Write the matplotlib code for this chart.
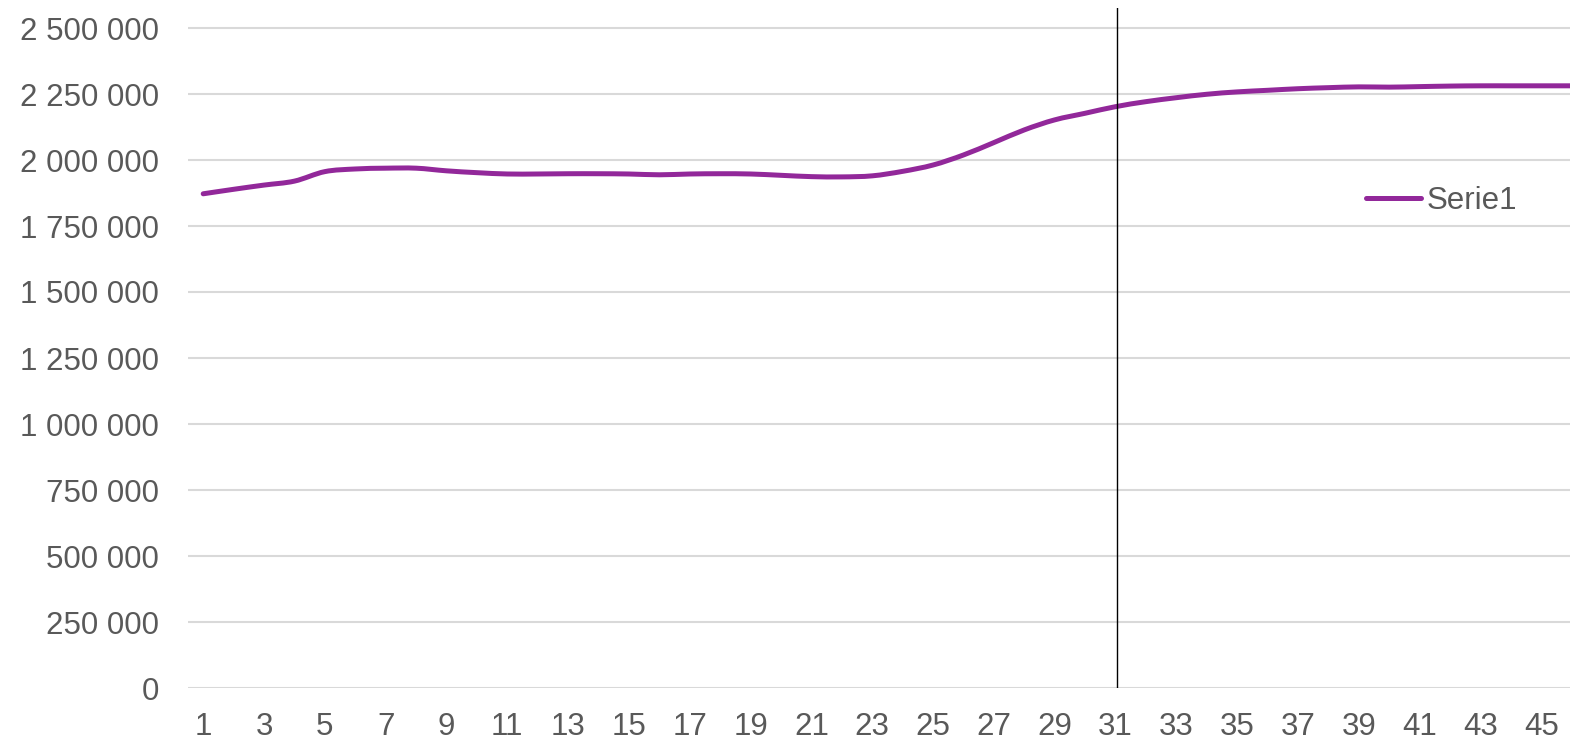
import matplotlib
matplotlib.use('Agg')
import matplotlib.pyplot as plt
from matplotlib.path import Path
from matplotlib.patches import PathPatch
from matplotlib.lines import Line2D
from matplotlib.ticker import FuncFormatter, MultipleLocator

## series
periods = list(range(1, 47))
serie1 = [1872000, 1889000, 1905000, 1920000, 1956000, 1966000, 1969000, 1969000,
          1959000, 1952000, 1947000, 1947000, 1948000, 1948000, 1947000, 1944000,
          1947000, 1948000, 1947000, 1942000, 1937000, 1936000, 1940000, 1957000,
          1981000, 2019000, 2066000, 2114000, 2152000, 2177000, 2202000, 2221000,
          2236000, 2249000, 2258000, 2264000, 2270000, 2274000, 2277000, 2276000,
          2278000, 2280000, 2281000, 2281000, 2281000, 2281000]
marker_period = 31
y_ticks = list(range(0, 2500001, 250000))
series_name = 'Serie1'

plt.rcParams['font.family'] = ['Liberation Sans', 'DejaVu Sans']
txt = '#595959'
purple = '#92289a'


def smooth_path(xs, ys):
    ## bezier through the points, like the "smoothed line" option of a spreadsheet chart
    verts = [(xs[0], ys[0])]
    codes = [Path.MOVETO]
    n = len(xs)
    for i in range(n - 1):
        x0, y0 = xs[max(i - 1, 0)], ys[max(i - 1, 0)]
        x1, y1 = xs[i], ys[i]
        x2, y2 = xs[i + 1], ys[i + 1]
        x3, y3 = xs[min(i + 2, n - 1)], ys[min(i + 2, n - 1)]
        verts += [(x1 + (x2 - x0) / 6, y1 + (y2 - y0) / 6),
                  (x2 - (x3 - x1) / 6, y2 - (y3 - y1) / 6),
                  (x2, y2)]
        codes += [Path.CURVE4] * 3
    return Path(verts, codes)


W, H = 1570, 741
fig = plt.figure(figsize=(W / 100, H / 100), dpi=100)
ax = fig.add_axes([188 / W, (H - 688) / H, (W - 188) / W, (688 - 8) / H])

ax.add_patch(PathPatch(smooth_path(periods, serie1), fill=False, edgecolor=purple, lw=3.6,
                       capstyle='round', joinstyle='round', zorder=3))
ax.axvline(marker_period + 0.04, color='black', lw=1.0, zorder=4)

ax.set_xlim(0.5, 0.5 + (W - 188) / 30.41)
ax.set_ylim(0, 2500000 * 680 / 660)
ax.set_yticks(y_ticks)
ax.yaxis.set_major_formatter(FuncFormatter(lambda v, p: f'{int(v):,}'.replace(',', ' ')))
ax.xaxis.set_major_locator(MultipleLocator(2, offset=1))
ax.grid(axis='y', color='#d9d9d9', lw=1.5, zorder=0)
for s in ax.spines.values():
    s.set_visible(False)
ax.tick_params(axis='both', length=0, labelsize=22.5, labelcolor=txt)
ax.tick_params(axis='y', pad=21)
ax.tick_params(axis='x', pad=17)

handle = Line2D([], [], color=purple, lw=3.6, solid_capstyle='round')
ax.legend([handle], [series_name], loc='center left', bbox_to_anchor=(1366 / W, 1 - 201 / H),
          bbox_transform=fig.transFigure, frameon=False, fontsize=22.5, labelcolor=txt,
          handlelength=1.75, handletextpad=0.2, borderpad=0, borderaxespad=0)

plt.savefig('out.png', dpi=100)
